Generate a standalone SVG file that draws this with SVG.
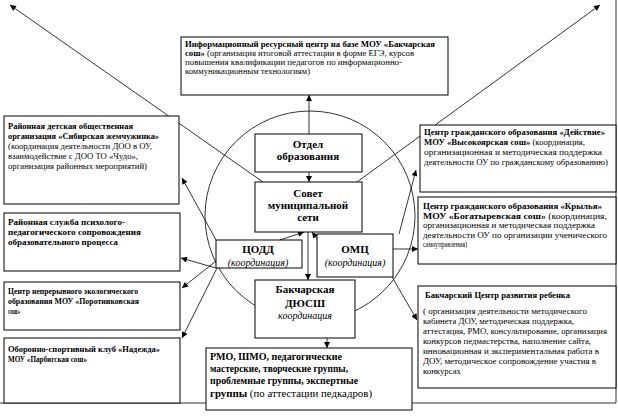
<svg xmlns="http://www.w3.org/2000/svg" width="618" height="420" viewBox="0 0 618 420">
<defs>
<marker id="ah" viewBox="0 0 10 10" refX="10" refY="5" markerWidth="7" markerHeight="6" markerUnits="userSpaceOnUse" orient="auto">
<path d="M0,0 L10,5 L0,10 z" fill="#000"/>
</marker>
<style>
.box{fill:#fff;stroke:#000;stroke-width:1}
.ln{fill:none;stroke:#000;stroke-width:0.8}
.arr{marker-end:url(#ah)}
text{font-family:"Liberation Serif",serif;fill:#000}
.s{font-size:9px}
.b{font-weight:bold}
.c{font-size:11px;font-weight:bold;text-anchor:middle}
.ci{font-size:10px;font-style:italic;text-anchor:middle}
.m{font-size:11px}
</style>
</defs>
<rect width="618" height="420" fill="#fff"/>
<path class="ln" d="M616,0 L616,403 M0,403 L616,403"/>
<circle class="ln" cx="310" cy="216" r="105"/>
<g id="connectors">
<path class="ln arr" d="M263,182 L10,5"/>
<path class="ln arr" d="M357,182 L600,5"/>
<path class="ln arr" d="M309,134 L309,95"/>
<path class="ln arr" d="M309,172 L309,182"/>
<path class="ln arr" d="M308,232 L308,280"/>
<path class="ln arr" d="M280,240 L304,232"/>
<path class="ln arr" d="M318,240 L312,232"/>
<path class="ln arr" d="M399,234 L416,170"/>
<path class="ln arr" d="M393,249 L418,249"/>
<path class="ln arr" d="M388,270 L417,320"/>
<path class="ln arr" d="M216,240 L182,178"/>
<path class="ln arr" d="M216,268 L181,258"/>
<path class="ln arr" d="M216,261 L182,288"/>
<path class="ln arr" d="M217,268 L182,338"/>
<path class="ln arr" d="M327,338 L327,348"/>
</g>
<g id="n-irc">
<rect class="box" x="181" y="37" width="267" height="58"/>
<text class="s b" x="185" y="47" textLength="250" lengthAdjust="spacingAndGlyphs">Информационный ресурсный центр на базе МОУ «Бакчарская</text>
<text class="s" x="185" y="56" textLength="229" lengthAdjust="spacingAndGlyphs"><tspan class="b">сош»</tspan> (организация итоговой аттестации в форме ЕГЭ, курсов</text>
<text class="s" x="185" y="65" textLength="217" lengthAdjust="spacingAndGlyphs">повышения квалификации педагогов по информационно-</text>
<text class="s" x="185" y="74" textLength="125" lengthAdjust="spacingAndGlyphs">коммуникационным технологиям)</text>
</g>
<g id="n-rdoo">
<rect class="box" x="4" y="116" width="175" height="88"/>
<text class="s b" x="8" y="129" textLength="125" lengthAdjust="spacingAndGlyphs">Районная детская общественная</text>
<text class="s b" x="8" y="139" textLength="151" lengthAdjust="spacingAndGlyphs">организация «Сибирская жемчужинка»</text>
<text class="s" x="8" y="149" textLength="144" lengthAdjust="spacingAndGlyphs">(координация деятельности ДОО в ОУ,</text>
<text class="s" x="8" y="159" textLength="130" lengthAdjust="spacingAndGlyphs">взаимодействие с ДОО ТО «Чудо»,</text>
<text class="s" x="8" y="169" textLength="139" lengthAdjust="spacingAndGlyphs">организация районных мероприятий)</text>
</g>
<g id="n-psy">
<rect class="box" x="4" y="213" width="176" height="58"/>
<text class="s b" x="8" y="225" textLength="117" lengthAdjust="spacingAndGlyphs">Районная служба психолого-</text>
<text class="s b" x="8" y="235" textLength="133" lengthAdjust="spacingAndGlyphs">педагогического сопровождения</text>
<text class="s b" x="8" y="245" textLength="110" lengthAdjust="spacingAndGlyphs">образовательного процесса</text>
</g>
<g id="n-eco">
<rect class="box" x="4" y="282" width="176" height="48"/>
<text class="s b" x="8" y="294" textLength="130" lengthAdjust="spacingAndGlyphs">Центр непрерывного экологического</text>
<text class="s b" x="8" y="304" textLength="131" lengthAdjust="spacingAndGlyphs">образования МОУ «Поротниковская</text>
<text class="s b" x="8" y="314" textLength="12" lengthAdjust="spacingAndGlyphs">сош»</text>
</g>
<g id="n-osk">
<rect class="box" x="4" y="338" width="176" height="65"/>
<text class="s b" x="8" y="352" textLength="152" lengthAdjust="spacingAndGlyphs">Оборонно-спортивный клуб «Надежда»</text>
<text class="s b" x="8" y="362" textLength="79" lengthAdjust="spacingAndGlyphs">МОУ «Парбигская сош»</text>
</g>
<g id="n-deistvie">
<rect class="box" x="420" y="125" width="196" height="67"/>
<text class="s b" x="424" y="135" textLength="181" lengthAdjust="spacingAndGlyphs">Центр гражданского образования «Действие»</text>
<text class="s" x="424" y="145" textLength="161" lengthAdjust="spacingAndGlyphs"><tspan class="b">МОУ «Высокоярская сош»</tspan> (координация,</text>
<text class="s" x="424" y="155" textLength="178" lengthAdjust="spacingAndGlyphs">организационная и методическая поддержка</text>
<text class="s" x="424" y="165" textLength="184" lengthAdjust="spacingAndGlyphs">деятельности ОУ по гражданскому образованию)</text>
</g>
<g id="n-krylya">
<rect class="box" x="418" y="197" width="198" height="67"/>
<text class="s b" x="423" y="209" textLength="179" lengthAdjust="spacingAndGlyphs">Центр гражданского образования «Крылья»</text>
<text class="s" x="423" y="218.5" textLength="184" lengthAdjust="spacingAndGlyphs"><tspan class="b">МОУ «Богатыревская сош»</tspan> (координация,</text>
<text class="s" x="423" y="228" textLength="172" lengthAdjust="spacingAndGlyphs">организационная и методическая поддержка</text>
<text class="s" x="423" y="237.5" textLength="184" lengthAdjust="spacingAndGlyphs">деятельности ОУ по организации ученического</text>
<text class="s" x="423" y="247" textLength="44" lengthAdjust="spacingAndGlyphs">самоуправления)</text>
</g>
<g id="n-crr">
<rect class="box" x="418" y="286" width="198" height="102"/>
<text class="s b" x="425" y="298" textLength="145" lengthAdjust="spacingAndGlyphs">Бакчарский Центр развития ребенка</text>
<text class="s" x="423" y="314" textLength="164" lengthAdjust="spacingAndGlyphs">( организация деятельности методического</text>
<text class="s" x="423" y="324" textLength="151" lengthAdjust="spacingAndGlyphs">кабинета ДОУ, методическая поддержка,</text>
<text class="s" x="423" y="334" textLength="184" lengthAdjust="spacingAndGlyphs">аттестация, РМО, консультирование, организация</text>
<text class="s" x="423" y="344" textLength="168" lengthAdjust="spacingAndGlyphs">конкурсов педмастерства, наполнение сайта,</text>
<text class="s" x="423" y="354" textLength="176" lengthAdjust="spacingAndGlyphs">инновационная и экспериментальная работа в</text>
<text class="s" x="423" y="364" textLength="173" lengthAdjust="spacingAndGlyphs">ДОУ, методическое сопровождение участия в</text>
<text class="s" x="423" y="374" textLength="38" lengthAdjust="spacingAndGlyphs">конкурсах</text>
</g>
<g id="n-otdel">
<rect class="box" x="255" y="134" width="107" height="38"/>
<text class="c" x="308" y="148">Отдел</text>
<text class="c" x="308" y="160">образования</text>
</g>
<g id="n-sovet">
<rect class="box" x="255" y="182" width="107" height="50"/>
<text class="c" x="308" y="197">Совет</text>
<text class="c" x="308" y="209">муниципальной</text>
<text class="c" x="308" y="221">сети</text>
</g>
<g id="n-csodd">
<rect class="box" x="216" y="240" width="86" height="28"/>
<text class="c" x="258" y="253">ЦОДД</text>
<text class="ci" x="258" y="266">(координация)</text>
</g>
<g id="n-omc">
<rect class="box" x="317" y="234" width="76" height="43"/>
<text class="c" x="355" y="253">ОМЦ</text>
<text class="ci" x="355" y="266">(координация)</text>
</g>
<g id="n-dyussh">
<rect class="box" x="255" y="280" width="100" height="58"/>
<text class="c" x="305" y="293">Бакчарская</text>
<text class="c" x="305" y="307">ДЮСШ</text>
<text class="ci" x="305" y="319">координация</text>
</g>
<g id="n-rmo">
<rect class="box" x="206" y="348" width="206" height="62"/>
<text class="m b" x="210" y="360" textLength="132" lengthAdjust="spacingAndGlyphs">РМО, ШМО, педагогические</text>
<text class="m b" x="210" y="372" textLength="138" lengthAdjust="spacingAndGlyphs">мастерские, творческие группы,</text>
<text class="m b" x="210" y="384" textLength="148" lengthAdjust="spacingAndGlyphs">проблемные группы, экспертные</text>
<text class="m" x="210" y="397" textLength="162" lengthAdjust="spacingAndGlyphs"><tspan class="b">группы</tspan> (по аттестации педкадров)</text>
</g>
</svg>
